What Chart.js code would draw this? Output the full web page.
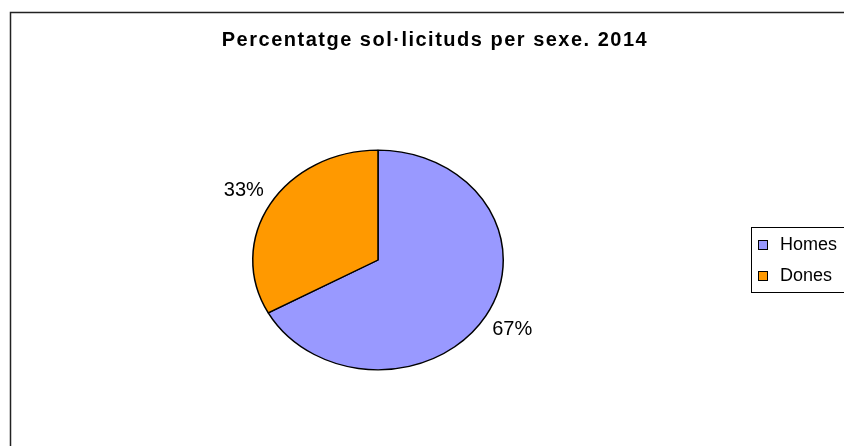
<!DOCTYPE html>
<html>
<head>
<meta charset="utf-8">
<script src="https://cdn.jsdelivr.net/npm/chart.js@4.4.0/dist/chart.umd.min.js"></script>
<style>
  html, body { margin: 0; padding: 0; background: #fff; }
  #wrap { width: 844px; height: 446px; }
</style>
</head>
<body>
<div id="wrap"><canvas id="myChart" width="844" height="446"></canvas></div>
<script>
const titleText = 'Percentatge sol·licituds per sexe. 2014';
const labels = ['Homes', 'Dones'];
const values = [67, 33];
const colors = ['#9999FF', '#FF9900'];

const fontFam = '"Liberation Sans", Arial, sans-serif';
// the original pie is a bit squashed vertically
const squash = 0.877;

const ellipsePlugin = {
    id: 'ellipse',
    beforeDatasetsDraw(chart) {
        const arc = chart.getDatasetMeta(0).data[0];
        const ctx = chart.ctx;
        ctx.save();
        ctx.translate(arc.x, arc.y);
        ctx.scale(1, squash);
        ctx.translate(-arc.x, -arc.y);
    },
    afterDatasetsDraw(chart) {
        chart.ctx.restore();
    }
};

const extrasPlugin = {
    id: 'extras',
    afterDraw(chart) {
        const ctx = chart.ctx;
        ctx.save();

        // frame
        ctx.strokeStyle = '#222';
        ctx.lineWidth = 1.5;
        ctx.beginPath();
        ctx.moveTo(10.5, 460);
        ctx.lineTo(10.5, 12.5);
        ctx.lineTo(860, 12.5);
        ctx.stroke();

        // title
        ctx.fillStyle = '#000';
        ctx.font = 'bold 20px ' + fontFam;
        ctx.letterSpacing = '1.5px';
        ctx.textAlign = 'center';
        ctx.textBaseline = 'middle';
        ctx.fillText(titleText, 435, 40);
        ctx.letterSpacing = '0px';

        // percentage labels
        const total = values.reduce((a, b) => a + b, 0);
        ctx.font = '20px ' + fontFam;
        chart.getDatasetMeta(0).data.forEach((arc, i) => {
            const mid = (arc.startAngle + arc.endAngle) / 2;
            const r = arc.outerRadius * 1.245;
            const x = arc.x + Math.cos(mid) * r;
            const y = arc.y + Math.sin(mid) * r * squash;
            ctx.fillText(Math.round(values[i] / total * 100) + '%', x, y);
        });

        // legend
        ctx.strokeStyle = '#000';
        ctx.lineWidth = 1;
        ctx.strokeRect(751.5, 227.5, 120, 65);
        ctx.font = '18px ' + fontFam;
        ctx.textAlign = 'left';
        labels.forEach((lab, i) => {
            const y = 245 + i * 31;
            ctx.fillStyle = colors[i];
            ctx.fillRect(758.5, y - 4.5, 9, 9);
            ctx.strokeRect(758.5, y - 4.5, 9, 9);
            ctx.fillStyle = '#000';
            ctx.fillText(lab, 780, y);
        });
        ctx.restore();
    }
};

new Chart(document.getElementById('myChart'), {
    type: 'pie',
    data: {
        labels: labels,
        datasets: [{
            data: values,
            backgroundColor: colors,
            borderColor: '#000',
            borderWidth: 1.5
        }]
    },
    options: {
        responsive: false,
        animation: false,
        layout: { padding: { left: 252, right: 340, top: 134, bottom: 60 } },
        plugins: {
            legend: { display: false },
            tooltip: { enabled: false }
        }
    },
    plugins: [ellipsePlugin, extrasPlugin]
});
</script>
</body>
</html>
